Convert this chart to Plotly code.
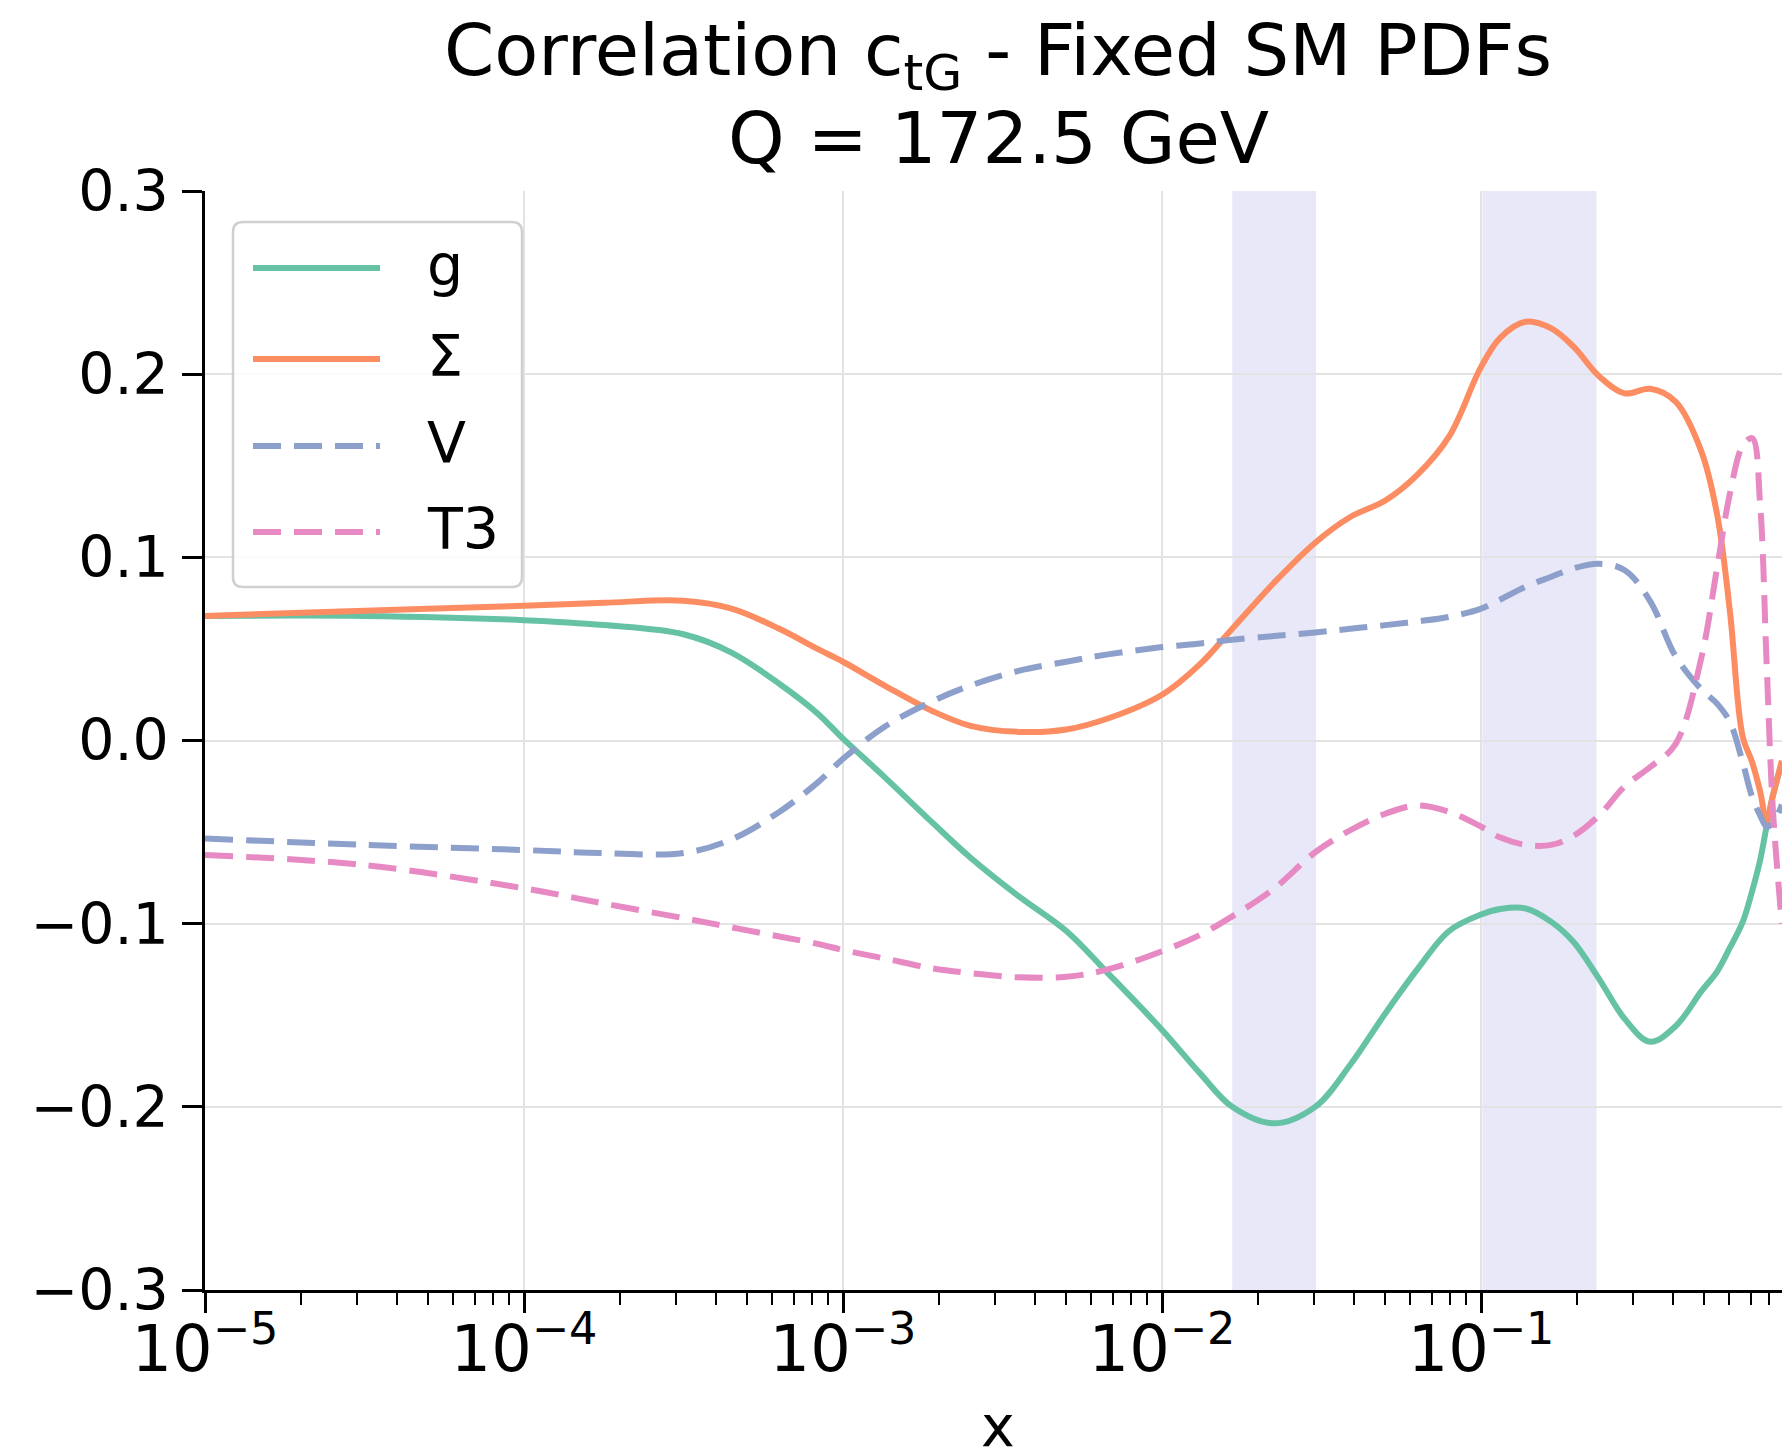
import plotly.graph_objects as go

# ---------------- data ----------------
x_vals = [1.00e-5, 3.16e-5, 1.00e-4, 1.78e-4, 3.16e-4, 4.47e-4, 6.31e-4, 8.32e-4,
          1.00e-3, 1.35e-3, 1.91e-3, 2.51e-3, 3.55e-3, 5.01e-3, 6.76e-3, 1.00e-2,
          1.32e-2, 1.66e-2, 2.24e-2, 3.02e-2, 3.89e-2, 5.01e-2, 6.31e-2, 7.94e-2,
          0.100, 0.115, 0.138, 0.166, 0.195, 0.234, 0.282, 0.339, 0.407, 0.490,
          0.550, 0.603, 0.661, 0.708, 0.750, 0.785, 0.822, 0.877]

g_vals = [0.068, 0.068, 0.0657, 0.063, 0.058, 0.048, 0.031, 0.0148,
          0.001, -0.020, -0.045, -0.064, -0.085, -0.104, -0.127, -0.158,
          -0.182, -0.200, -0.209, -0.200, -0.177, -0.149, -0.125, -0.104,
          -0.095, -0.092, -0.0917, -0.099, -0.110, -0.130, -0.152, -0.1645, -0.156, -0.137,
          -0.126, -0.113, -0.099, -0.082, -0.065, -0.047, -0.030, -0.012]

sigma_vals = [0.068, 0.0708, 0.0736, 0.0752, 0.0763, 0.072, 0.061, 0.050,
              0.043, 0.030, 0.016, 0.008, 0.0047, 0.006, 0.012, 0.025,
              0.042, 0.061, 0.086, 0.108, 0.122, 0.131, 0.145, 0.166,
              0.204, 0.220, 0.2286, 0.225, 0.215, 0.199, 0.1895, 0.192, 0.185, 0.158,
              0.123, 0.070, 0.002, -0.012, -0.028, -0.044, -0.030, -0.011]

v_vals = [-0.0535, -0.057, -0.0598, -0.0615, -0.0614, -0.054, -0.039, -0.023,
          -0.010, 0.0075, 0.0215, 0.030, 0.038, 0.043, 0.047, 0.051,
          0.053, 0.055, 0.057, 0.059, 0.061, 0.063, 0.065, 0.0675,
          0.072, 0.077, 0.084, 0.0894, 0.094, 0.0965, 0.093, 0.076, 0.046, 0.028,
          0.020, 0.010, -0.012, -0.031, -0.041, -0.047, -0.045, -0.035]

t3_vals = [-0.0625, -0.068, -0.0807, -0.089, -0.097, -0.102, -0.107, -0.111,
           -0.1144, -0.119, -0.1244, -0.127, -0.1293, -0.129, -0.125, -0.115,
           -0.106, -0.096, -0.081, -0.061, -0.049, -0.040, -0.0355, -0.039,
           -0.047, -0.053, -0.057, -0.057, -0.052, -0.041, -0.025, -0.0145, -0.002, 0.045,
           0.095, 0.135, 0.161, 0.165, 0.128, 0.043, -0.038, -0.100]

series_names = ["g", "Σ", "V", "T3"]
series_colors = ["#66c2a5", "#fc8d62", "#8da0cb", "#e78ac3"]
series_dash = ["solid", "solid", "28px,13px", "28px,13px"]
series_vals = [g_vals, sigma_vals, v_vals, t3_vals]

band_lo = [0.0166, 0.101]
band_hi = [0.0304, 0.230]

y_ticks = [-0.3, -0.2, -0.1, 0.0, 0.1, 0.2, 0.3]

title_line1 = "Correlation c<sub>tG</sub> - Fixed SM PDFs"
title_line2 = "Q = 172.5 GeV"

# ---------------- layout geometry ----------------
W, H = 1782, 1453
L, R, T, B = 205, 0, 191, 163
PW, PH = W - L - R, H - T - B
FONT = "DejaVu Sans"
LW = 6


def px(X):
    return (X - L) / PW


def py(Y):
    return (T + PH - Y) / PH


fig = go.Figure()

for name, col, dash, vals in zip(series_names, series_colors, series_dash, series_vals):
    fig.add_trace(go.Scatter(
        x=x_vals, y=vals, mode="lines", name=name, showlegend=False, hoverinfo="skip",
        line=dict(color=col, width=LW, dash=dash, shape="spline", smoothing=1.0),
    ))

shapes = []
for lo, hi in zip(band_lo, band_hi):
    shapes.append(dict(type="rect", xref="x", yref="paper", x0=lo, x1=hi, y0=0, y1=1,
                       fillcolor="rgb(232,232,249)", line=dict(width=0), layer="below"))

# legend box (rounded rectangle)
bx0, bx1, by0, by1, rad = 233, 522, 222, 587, 10


def rounded_path(x0, x1, y0, y1, r):
    pts = [
        f"M {px(x0 + r)},{py(y0)}",
        f"L {px(x1 - r)},{py(y0)}",
        f"Q {px(x1)},{py(y0)} {px(x1)},{py(y0 + r)}",
        f"L {px(x1)},{py(y1 - r)}",
        f"Q {px(x1)},{py(y1)} {px(x1 - r)},{py(y1)}",
        f"L {px(x0 + r)},{py(y1)}",
        f"Q {px(x0)},{py(y1)} {px(x0)},{py(y1 - r)}",
        f"L {px(x0)},{py(y0 + r)}",
        f"Q {px(x0)},{py(y0)} {px(x0 + r)},{py(y0)}",
        "Z",
    ]
    return " ".join(pts)


shapes.append(dict(type="path", xref="paper", yref="paper",
                   path=rounded_path(bx0, bx1, by0, by1, rad),
                   fillcolor="rgba(255,255,255,0.85)",
                   line=dict(color="#d0d0d0", width=2.5), layer="above"))

leg_y = [268, 359, 446, 532]
annotations = []
for name, col, dash, ly in zip(series_names, series_colors, series_dash, leg_y):
    shapes.append(dict(type="line", xref="paper", yref="paper",
                       x0=px(253), x1=px(380), y0=py(ly), y1=py(ly),
                       line=dict(color=col, width=LW, dash=dash), layer="above"))
    annotations.append(dict(xref="paper", yref="paper", x=px(425), y=py(ly - 3),
                            text=name, showarrow=False, xanchor="left", yanchor="middle",
                            font=dict(family=FONT, size=57, color="black")))

# titles
annotations.append(dict(xref="paper", yref="paper", x=px(998), y=py(55), text=title_line1,
                        showarrow=False, xanchor="center", yanchor="middle",
                        font=dict(family=FONT, size=72, color="black")))
annotations.append(dict(xref="paper", yref="paper", x=px(998), y=py(138), text=title_line2,
                        showarrow=False, xanchor="center", yanchor="middle",
                        font=dict(family=FONT, size=72, color="black")))
# x axis label
annotations.append(dict(xref="paper", yref="paper", x=px(998), y=py(1426), text="x",
                        showarrow=False, xanchor="center", yanchor="middle",
                        font=dict(family=FONT, size=57, color="black")))

fig.update_layout(
    width=W, height=H, autosize=False,
    margin=dict(l=L, r=R, t=T, b=B, pad=0),
    paper_bgcolor="white", plot_bgcolor="white",
    font=dict(family=FONT, size=57, color="black"),
    shapes=shapes, annotations=annotations,
    showlegend=False,
)

fig.update_xaxes(
    type="log", range=[-5, -0.0567], dtick=1, exponentformat="power",
    showgrid=True, gridcolor="#e3e3e3", gridwidth=2,
    showline=True, linecolor="black", linewidth=3, mirror=False,
    ticks="outside", ticklen=20, tickwidth=2.5, tickcolor="black",
    tickfont=dict(family=FONT, size=51, color="black"),
    minor=dict(dtick="D1", ticks="outside", ticklen=12, tickwidth=2, tickcolor="black", showgrid=False),
    zeroline=False, ticklabelstandoff=-16,
)
fig.update_yaxes(
    range=[-0.3, 0.3], tickvals=y_ticks, tickformat=".1f",
    showgrid=True, gridcolor="#e3e3e3", gridwidth=2,
    showline=True, linecolor="black", linewidth=2.5,
    ticks="outside", ticklen=20, tickwidth=2.5, tickcolor="black",
    tickfont=dict(family=FONT, size=57, color="black"),
    zeroline=False, ticklabelstandoff=2,
)

fig.write_html("out.html", config={"displayModeBar": False},
               post_script="document.body.style.margin='0';document.body.style.overflow='hidden';")
